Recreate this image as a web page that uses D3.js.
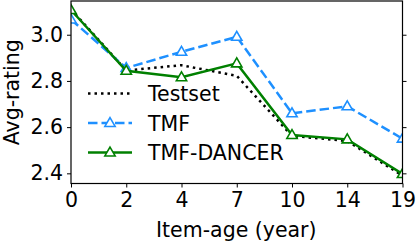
<!DOCTYPE html>
<html>
<head>
<meta charset="utf-8">
<script src="https://cdn.jsdelivr.net/npm/d3@7"></script>
<style>
  body { margin: 0; background: #fff; }
  svg text { font-family: "DejaVu Sans", sans-serif; fill: #000; }
</style>
</head>
<body>
<div class="chart"></div>
<script>
const width = 416;
const height = 242;
const plotL = 71, plotR = 402.5, plotT = 1, plotB = 183.5;

// item age categories (equally spaced on the axis)
const ages = ['0', '2', '4', '7', '10', '14', '19'];
const testset = [3.11, 2.845, 2.868, 2.822, 2.562, 2.540, 2.390];
const tmf = [3.066, 2.856, 2.926, 2.991, 2.660, 2.690, 2.550];
const dancer = [3.107, 2.844, 2.816, 2.876, 2.566, 2.547, 2.397];
const yTicks = [2.4, 2.6, 2.8, 3.0];

const svg = d3.select('.chart').append('svg')
    .attr('width', width)
    .attr('height', height);

const xScale = d3.scalePoint().domain(ages).range([plotL, plotR]);
const yScale = d3.scaleLinear().domain([2.356, 3.146]).range([plotB, plotT]);

svg.append('clipPath').attr('id', 'plot')
    .append('rect')
    .attr('x', plotL).attr('y', plotT)
    .attr('width', plotR - plotL).attr('height', plotB - plotT);

const series = [
    { name: 'Testset', values: testset, color: '#000', dash: '2.5,4', marker: false },
    { name: 'TMF', values: tmf, color: '#1E90FF', dash: '9.5,4', marker: true },
    { name: 'TMF-DANCER', values: dancer, color: '#008000', dash: null, marker: true }
];

const line = d3.line()
    .x((d, i) => xScale(ages[i]))
    .y(d => yScale(d));

const tri = d3.symbol().type(d3.symbolTriangle).size(46);

const plot = svg.append('g').attr('clip-path', 'url(#plot)');
series.forEach(s => {
    plot.append('path')
        .attr('d', line(s.values))
        .attr('fill', 'none')
        .attr('stroke', s.color)
        .attr('stroke-width', 2.5)
        .attr('stroke-dasharray', s.dash);
    if (s.marker) {
        plot.selectAll(null)
            .data(s.values)
            .enter()
            .append('path')
            .attr('d', tri)
            .attr('transform', (d, i) => `translate(${xScale(ages[i])},${yScale(d) + 0.5})`)
            .attr('fill', '#fff')
            .attr('stroke', s.color)
            .attr('stroke-width', 1.6);
    }
});

/*      axes       */
const yAxis = svg.append('g')
    .attr('transform', `translate(${plotL},0)`)
    .call(d3.axisLeft(yScale).tickValues(yTicks).tickFormat(d3.format('.1f')).tickSize(4).tickPadding(4));
const yAxisR = svg.append('g')
    .attr('transform', `translate(${plotR},0)`)
    .call(d3.axisRight(yScale).tickValues(yTicks).tickFormat('').tickSize(4));
const xAxis = svg.append('g')
    .attr('transform', `translate(0,${plotB})`)
    .call(d3.axisBottom(xScale).tickSize(4).tickPadding(5));
[yAxis, yAxisR, xAxis].forEach(a => {
    a.select('.domain').remove();
    a.selectAll('line').attr('stroke', '#000').attr('stroke-width', 1);
    a.selectAll('text').attr('font-size', '20.5px').attr('font-family', 'DejaVu Sans');
});

svg.append('rect')
    .attr('x', plotL).attr('y', plotT)
    .attr('width', plotR - plotL).attr('height', plotB - plotT)
    .attr('fill', 'none')
    .attr('stroke', '#000')
    .attr('stroke-width', 1.2);

svg.append('text')
    .attr('x', (plotL + plotR) / 2 - 0.5)
    .attr('y', 237)
    .attr('text-anchor', 'middle')
    .attr('font-size', '20.5px')
    .text('Item-age (year)');

svg.append('text')
    .attr('transform', `translate(19,${(plotT + plotB) / 2}) rotate(-90)`)
    .attr('text-anchor', 'middle')
    .attr('font-size', '20.5px')
    .text('Avg-rating');

/*      legend      */
const legend = svg.append('g');
const rowY = [93.5, 123, 152.5];
series.forEach((s, i) => {
    const g = legend.append('g').attr('transform', `translate(0,${rowY[i]})`);
    g.append('line')
        .attr('x1', 88).attr('x2', 132)
        .attr('stroke', s.color)
        .attr('stroke-width', 2.5)
        .attr('stroke-dasharray', s.dash);
    if (s.marker) {
        g.append('path')
            .attr('d', tri)
            .attr('transform', 'translate(110,0.5)')
            .attr('fill', '#fff')
            .attr('stroke', s.color)
            .attr('stroke-width', 1.6);
    }
    g.append('text')
        .attr('x', 148)
        .attr('y', 7.5)
        .attr('font-size', '20.5px')
        .text(s.name);
});
</script>
</body>
</html>
